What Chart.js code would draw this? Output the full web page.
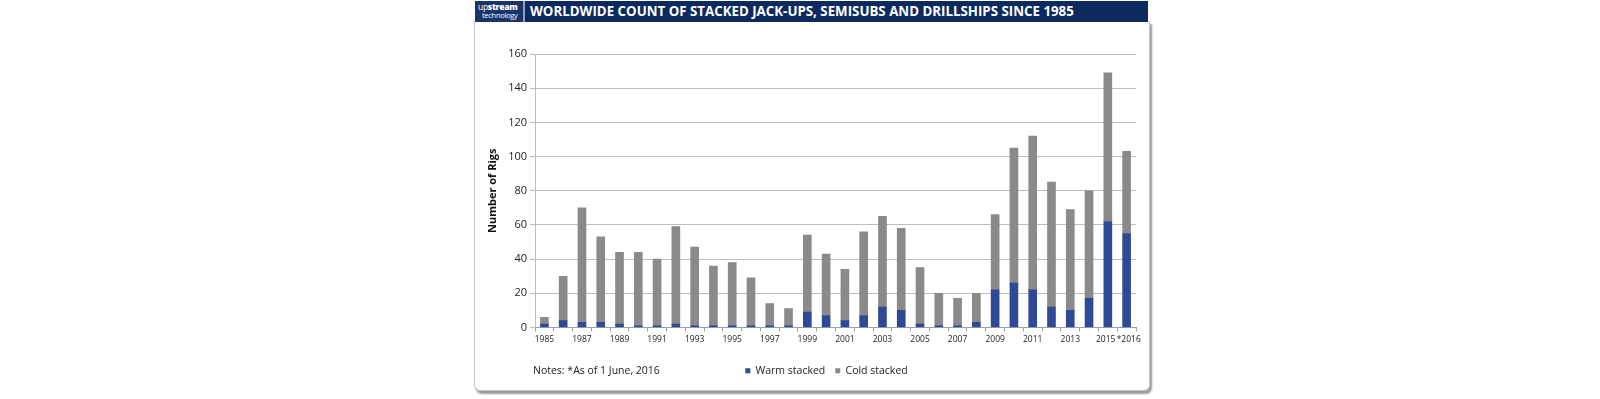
<!DOCTYPE html>
<html>
<head>
<meta charset="utf-8">
<script src="https://cdn.jsdelivr.net/npm/chart.js@4/dist/chart.umd.min.js"></script>
<style>
  html, body { margin: 0; padding: 0; background: #fff; }
  body { width: 1600px; height: 399px; position: relative; overflow: hidden; font-family: 'Open Sans', sans-serif; }
  .panel {
    position: absolute; left: 474px; top: 21px; width: 674px; height: 369px;
    background: #fff; border: 1px solid #c4c4c4; border-top: none;
    border-radius: 0 0 6px 6px; box-shadow: 2px 3px 2px #9a9a9a;
  }
  .header {
    position: absolute; left: 475px; top: 1px; width: 673px; height: 21px;
    background: #0d2a5e;
  }
  .logo {
    position: absolute; left: 0; top: 0; width: 50px; height: 21px;
    border-right: 2px solid #8f9fbf; box-sizing: border-box; color: #fff;
    background: #1a3468;
    font-family: 'Open Sans', sans-serif; line-height: 8px; padding: 2px 0 0 3px;
  }
  .logo .a { font-size: 8.5px; letter-spacing: -0.3px; }
  .logo .a b { font-weight: 800; }
  .logo .b { font-size: 7.5px; letter-spacing: -0.3px; padding-left: 4px; }
  .title {
    position: absolute; left: 55px; top: 0; height: 21px; line-height: 21px;
    color: #fff; font-weight: 700; font-size: 13.3px; white-space: nowrap;
  }
  #wrap { position: absolute; left: 475px; top: 24px; width: 675px; height: 366px; }
  .notes {
    position: absolute; left: 533px; top: 363px; font-size: 10.5px; color: #222;
  }
</style>
</head>
<body>
<div class="panel"></div>
<div class="header">
  <div class="logo"><div class="a">up<b>stream</b></div><div class="b">technology</div></div>
  <div class="title">WORLDWIDE COUNT OF STACKED JACK-UPS, SEMISUBS AND DRILLSHIPS SINCE 1985</div>
</div>
<div id="wrap"><canvas id="chart"></canvas></div>
<div class="notes">Notes: *As of 1 June, 2016</div>
<script>
// ── DATA ──────────────────────────────────────────
const years = ['1985','1986','1987','1988','1989','1990','1991','1992','1993','1994','1995','1996',
  '1997','1998','1999','2000','2001','2002','2003','2004','2005','2006','2007','2008',
  '2009','2010','2011','2012','2013','2014','2015','*2016'];
const warmStacked = [2,4,3,3,2,1,1,2,1,1,1,1,1,1,9,7,4,7,12,10,2,1,1,3,22,26,22,12,10,17,62,55];
const coldStacked = [4,26,67,50,42,43,39,57,46,35,37,28,13,10,45,36,30,49,53,48,33,19,16,17,44,79,90,73,59,63,87,48];
const yTicks = [0,20,40,60,80,100,120,140,160];

const FONT = "'Open Sans', sans-serif";

// nudge the legend to the right, as in the original layout
const legendShift = {
  id: 'legendShift',
  afterLayout(chart) {
    const lg = chart.legend;
    if (lg) { lg.left += 21; lg.right += 21; }
  },
};

// odd years + the last one; pad the last two so they don't collide
function xLabel(i) {
  const last = years.length - 1;
  if (i === last) return '\u2002' + years[i];
  if (i === last - 1) return years[i] + '\u2002';
  return i % 2 === 0 ? years[i] : '';
}

new Chart(document.getElementById('chart'), {
  type: 'bar',
  data: {
    labels: years,
    datasets: [
      { label: 'Warm stacked', data: warmStacked, backgroundColor: '#2e4a96', barThickness: 8 },
      { label: 'Cold stacked', data: coldStacked, backgroundColor: '#8b8989', barThickness: 8 },
    ],
  },
  plugins: [legendShift],
  options: {
    responsive: true,
    maintainAspectRatio: false,
    animation: false,
    layout: { padding: { left: 0, right: 14, top: 30, bottom: 4 } },
    plugins: {
      tooltip: { enabled: false },
      legend: {
        position: 'bottom',
        labels: {
          color: '#222', font: { family: FONT, size: 10.5 },
          boxWidth: 5, boxHeight: 5, padding: 10,
        },
      },
    },
    scales: {
      x: {
        stacked: true,
        grid: { drawOnChartArea: false, drawTicks: true, tickLength: 4, color: '#9aa0ac' },
        border: { color: '#9aa0b4' },
        ticks: {
          autoSkip: false, maxRotation: 0, padding: 3,
          color: '#222', font: { family: FONT, size: 8.5 },
          callback: (v, i) => xLabel(i),
        },
        afterFit: s => { s.height = 28; },
      },
      y: {
        stacked: true,
        min: 0, max: 160,
        afterBuildTicks: s => { s.ticks = yTicks.map(v => ({ value: v })); },
        grid: { color: '#bdbdbd', tickLength: 5 },
        border: { color: '#bdbdbd' },
        ticks: { padding: 3, color: '#222', font: { family: FONT, size: 11 } },
        title: {
          display: true, text: 'Number of Rigs', color: '#111',
          font: { family: FONT, size: 11, weight: 'bold' },
          padding: { top: 11, bottom: 0 },
        },
        afterFit: s => { s.width = 60; },
      },
    },
  },
});
</script>
</body>
</html>
